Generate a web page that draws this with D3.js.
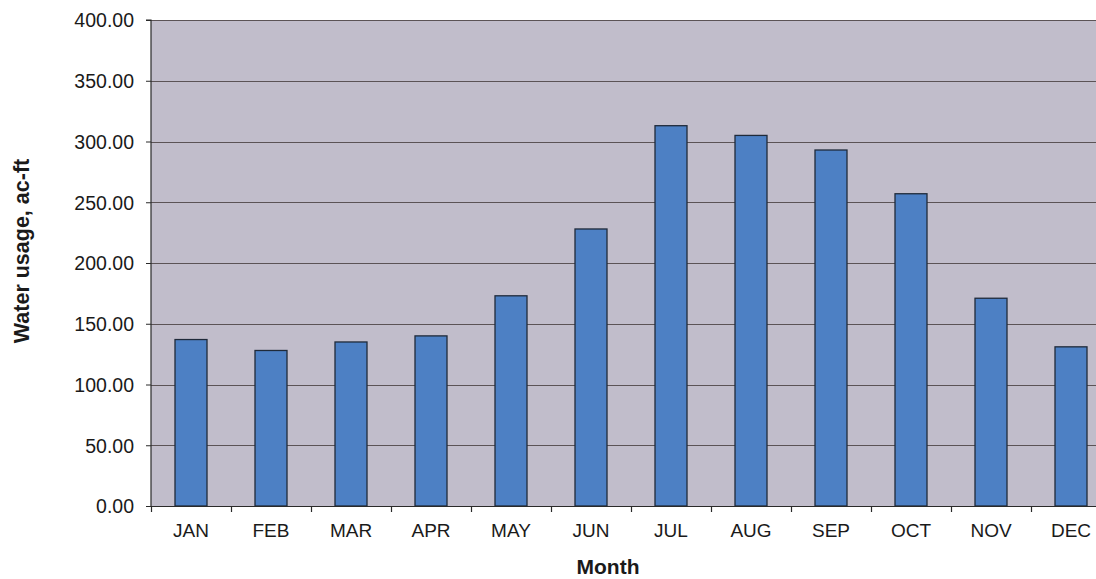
<!DOCTYPE html>
<html>
<head>
<meta charset="utf-8">
<script src="https://cdn.jsdelivr.net/npm/d3@7"></script>
<style>
  html, body { margin: 0; padding: 0; background: #ffffff; overflow: hidden; }
  svg { display: block; font-family: "Liberation Sans", Arial, sans-serif; }
</style>
</head>
<body>
<svg id="chart" width="1096" height="579"></svg>
<script>
// Monthly water usage (acre-feet)
const months = ["JAN", "FEB", "MAR", "APR", "MAY", "JUN", "JUL", "AUG", "SEP", "OCT", "NOV", "DEC"];
const usage = [137, 128, 135, 140, 173, 228, 313, 305, 293, 257, 171, 131];
const yTicks = [0, 50, 100, 150, 200, 250, 300, 350, 400];

const svg = d3.select("#chart");
const plot = { left: 151, top: 20, right: 1111, bottom: 506 };

const band = d3.scaleBand().domain(months).range([plot.left, plot.right]);
const y = d3.scaleLinear().domain([0, 400]).range([plot.bottom, plot.top]);

// plot background
svg.append("rect")
  .attr("x", plot.left).attr("y", plot.top)
  .attr("width", plot.right - plot.left).attr("height", plot.bottom - plot.top)
  .attr("fill", "#c1bdcb");

// horizontal gridlines
svg.append("g").selectAll("line")
  .data(yTicks.filter(d => d > 0))
  .join("line")
  .attr("x1", plot.left).attr("x2", plot.right)
  .attr("y1", d => Math.round(y(d)) + 0.5).attr("y2", d => Math.round(y(d)) + 0.5)
  .attr("stroke", "#5b5356").attr("stroke-width", 1.2);

// bars
svg.append("g").selectAll("rect")
  .data(months)
  .join("rect")
  .attr("x", d => band(d) + band.bandwidth() * 0.3)
  .attr("width", band.bandwidth() * 0.4)
  .attr("y", (d, i) => y(usage[i]))
  .attr("height", (d, i) => y(0) - y(usage[i]))
  .attr("fill", "#4d80c4")
  .attr("stroke", "#1f2a3a")
  .attr("stroke-width", 1.3);

// y axis
const yAxis = d3.axisLeft(y)
  .tickValues(yTicks)
  .tickFormat(d3.format(".2f"))
  .tickSize(5)
  .tickPadding(12);
const gy = svg.append("g")
  .attr("transform", `translate(${plot.left},0)`)
  .call(yAxis);
gy.select(".domain").attr("stroke", "#2a2a2a").attr("stroke-width", 1.2).attr("d", `M-5,${plot.top}H0V${plot.bottom}`);
gy.selectAll(".tick line").attr("stroke", "#2a2a2a");
gy.selectAll(".tick text")
  .attr("fill", "#1a1a1a")
  .style("font-size", "19.5px")
  .attr("dy", "0.35em");

// x axis: line along zero, tick marks between categories
svg.append("line")
  .attr("x1", plot.left).attr("x2", plot.right)
  .attr("y1", plot.bottom + 0.5).attr("y2", plot.bottom + 0.5)
  .attr("stroke", "#2a2a2a").attr("stroke-width", 1.2);

svg.append("g").selectAll("line")
  .data(months)
  .join("line")
  .attr("x1", d => band(d) + 0.5).attr("x2", d => band(d) + 0.5)
  .attr("y1", plot.bottom).attr("y2", plot.bottom + 6)
  .attr("stroke", "#2a2a2a").attr("stroke-width", 1.2);

svg.append("g").selectAll("text")
  .data(months)
  .join("text")
  .attr("x", d => band(d) + band.bandwidth() / 2)
  .attr("y", 537)
  .attr("text-anchor", "middle")
  .attr("fill", "#1a1a1a")
  .style("font-size", "19px")
  .text(d => d);

// axis titles
svg.append("text")
  .attr("x", 608).attr("y", 574)
  .attr("text-anchor", "middle")
  .attr("fill", "#1a1a1a")
  .style("font-size", "21px")
  .style("font-weight", "bold")
  .text("Month");

svg.append("text")
  .attr("transform", "translate(29,251) rotate(-90)")
  .attr("text-anchor", "middle")
  .attr("fill", "#1a1a1a")
  .style("font-size", "21.5px")
  .style("font-weight", "bold")
  .text("Water usage, ac-ft");
</script>
</body>
</html>
